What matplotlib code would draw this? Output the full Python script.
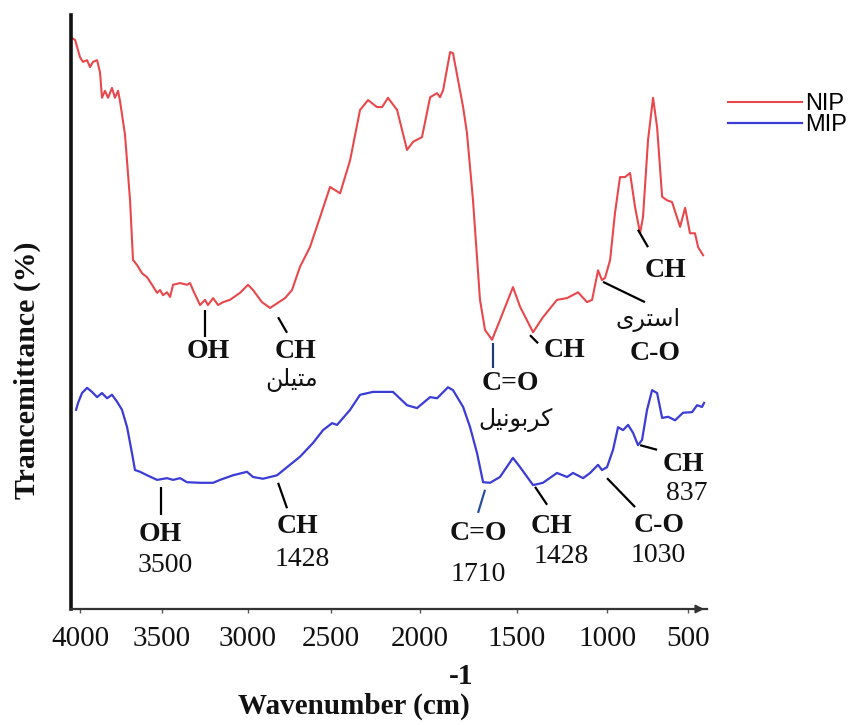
import numpy as np
import matplotlib
matplotlib.use('Agg')
import matplotlib.pyplot as plt
from matplotlib.ticker import FixedLocator, FixedFormatter, NullLocator
from matplotlib import font_manager
from matplotlib.ft2font import FT2Font

# ---------------- data ----------------
series_names = ['NIP', 'MIP']

nip_wn = [4049, 4030, 4000, 3982, 3957, 3939, 3921, 3896, 3878, 3866, 3848, 3829, 3805, 3787,
          3768, 3756, 3726, 3695, 3677, 3652, 3622, 3591, 3561, 3530, 3512, 3494, 3471, 3453,
          3436, 3395, 3355, 3337, 3320, 3279, 3250, 3233, 3203, 3174, 3145, 3105, 3047, 3000,
          2970, 2916, 2867, 2825, 2777, 2735, 2687, 2627, 2566, 2506, 2449, 2393, 2337, 2292,
          2242, 2213, 2180, 2129, 2073, 2039, 1990, 1948, 1912, 1897, 1881, 1845, 1830, 1778,
          1758, 1727, 1691, 1665, 1629, 1588, 1521, 1483, 1411, 1356, 1278, 1222, 1161, 1111,
          1083, 1050, 1028, 1011, 981, 951, 920, 889, 858, 827, 796, 778, 747, 716, 691, 660,
          630, 599, 549, 518, 488, 457, 438, 407]
nip_t = [98.6, 98.3, 95.3, 94.5, 94.8, 93.6, 94.5, 94.8, 92.7, 88.3, 89.5, 88.3, 90.0, 88.3,
         89.5, 87.7, 82.0, 70.6, 60.3, 59.4, 58.0, 57.3, 56.0, 54.6, 55.1, 54.2, 54.7, 53.9,
         56.0, 56.3, 56.0, 56.3, 55.1, 52.5, 53.4, 52.5, 53.7, 52.5, 53.0, 53.4, 54.6, 56.0,
         55.1, 53.0, 52.0, 52.8, 53.7, 55.1, 59.1, 62.5, 67.7, 72.9, 71.8, 77.5, 86.2, 87.9,
         86.7, 86.7, 88.3, 86.2, 79.3, 80.7, 81.5, 88.4, 89.1, 88.4, 89.6, 96.2, 96.0, 86.7,
         82.2, 70.6, 53.4, 48.2, 46.5, 49.9, 55.6, 52.2, 47.8, 50.4, 53.4, 53.7, 54.7, 53.0,
         53.4, 58.5, 56.8, 57.2, 60.3, 68.4, 74.6, 74.6, 75.3, 69.4, 64.9, 67.7, 81.0, 88.3,
         83.2, 71.2, 70.6, 70.3, 66.0, 69.3, 64.9, 64.9, 62.5, 61.1]

mip_wn = [4024, 4012, 3988, 3957, 3927, 3896, 3866, 3835, 3805, 3774, 3744, 3713, 3683, 3665,
          3634, 3591, 3530, 3471, 3436, 3395, 3355, 3279, 3203, 3163, 3087, 3006, 2970, 2910,
          2867, 2825, 2765, 2687, 2608, 2548, 2494, 2466, 2393, 2337, 2264, 2152, 2073, 2017,
          1948, 1912, 1856, 1830, 1778, 1742, 1706, 1675, 1639, 1588, 1521, 1483, 1411, 1356,
          1278, 1222, 1189, 1133, 1094, 1050, 1028, 1000, 963, 932, 901, 870, 839, 809, 784,
          753, 722, 691, 660, 623, 580, 531, 475, 444, 414, 401]
mip_t = [34.4, 35.6, 37.3, 38.2, 37.5, 36.6, 37.3, 36.4, 37.0, 35.8, 34.4, 31.4, 26.9, 24.0,
         23.7, 23.1, 22.3, 22.6, 22.3, 22.6, 21.9, 21.8, 21.8, 22.3, 23.1, 23.7, 22.8, 22.5,
         22.8, 23.1, 24.5, 26.3, 28.7, 30.9, 32.1, 31.8, 34.4, 37.0, 37.5, 37.5, 35.2, 34.7,
         36.6, 36.4, 38.3, 37.8, 34.9, 31.4, 26.9, 21.9, 21.8, 22.8, 26.1, 24.5, 21.4, 21.8,
         23.5, 22.8, 23.5, 22.6, 23.5, 24.9, 24.0, 24.5, 27.5, 31.4, 30.9, 31.8, 30.4, 28.3,
         29.2, 34.4, 37.8, 37.3, 33.0, 33.2, 32.6, 33.9, 34.0, 35.2, 34.9, 35.6]

tick_values = [4000, 3500, 3000, 2500, 2000, 1500, 1000, 500]
tick_labels = ['4000', '3500', '3000', '2500', '2000', '1500', '1000', '500']

x_label = 'Wavenumber (cm)'
x_label_exp = '-1'
y_label = 'Trancemittance (%)'

# ---------------- non-uniform wavenumber scale (as drawn in the figure) ----------------
# increasing function of wavenumber; axis is inverted through the limits
scale_wn = np.array([0, 500, 1000, 1500, 2000, 2500, 3000, 3500, 4000, 5000], float)
scale_pos = -np.array([769, 688, 607, 517, 420, 331, 248, 162, 80, -84], float)


def fwd(w):
    return np.interp(w, scale_wn, scale_pos)


def inv(p):
    return np.interp(p, scale_pos, scale_wn)


# ---------------- Persian text shaping ----------------
FORMS = {
    '\u0627': ('\uFE8D', '\uFE8E', None, None),
    '\u0628': ('\uFE8F', '\uFE90', '\uFE91', '\uFE92'),
    '\u062A': ('\uFE95', '\uFE96', '\uFE97', '\uFE98'),
    '\u0631': ('\uFEAD', '\uFEAE', None, None),
    '\u0633': ('\uFEB1', '\uFEB2', '\uFEB3', '\uFEB4'),
    '\u0644': ('\uFEDD', '\uFEDE', '\uFEDF', '\uFEE0'),
    '\u0645': ('\uFEE1', '\uFEE2', '\uFEE3', '\uFEE4'),
    '\u0646': ('\uFEE5', '\uFEE6', '\uFEE7', '\uFEE8'),
    '\u0648': ('\uFEED', '\uFEEE', None, None),
    '\u06CC': ('\uFBFC', '\uFBFD', '\uFBFE', '\uFBFF'),
    '\u06A9': ('\uFB8E', '\uFB8F', '\uFB90', '\uFB91'),
}
FALLBACK = {
    '\u06CC': ('\uFEEF', '\uFEF0', '\uFEF3', '\uFEF4'),
    '\u06A9': ('\uFED9', '\uFEDA', '\uFEDB', '\uFEDC'),
}
try:
    cmap = FT2Font(font_manager.findfont('DejaVu Sans')).get_charmap()
    for k, v in FALLBACK.items():
        if any(ord(g) not in cmap for g in FORMS[k]):
            FORMS[k] = v
except Exception:
    pass


def shape(s):
    out = []
    for i, c in enumerate(s):
        f = FORMS.get(c)
        if f is None:
            out.append(c)
            continue
        prev = s[i - 1] if i > 0 else None
        nxt = s[i + 1] if i < len(s) - 1 else None
        jp = prev in FORMS and FORMS[prev][2] is not None
        jn = f[2] is not None and nxt in FORMS
        if jp and jn:
            g = f[3]
        elif jp:
            g = f[1]
        elif jn:
            g = f[2]
        else:
            g = f[0]
        out.append(g)
    return ''.join(reversed(out))


# ---------------- figure ----------------
SERIF = ['Liberation Serif', 'DejaVu Serif']
fig = plt.figure(figsize=(8.67, 7.25), dpi=100)
ax = fig.add_axes([71 / 867, 1 - 609 / 725, (707 - 71) / 867, (609 - 15) / 725])
ax.set_xscale('function', functions=(fwd, inv))
ax.set_xlim(4055, 383)
ax.set_ylim(0, 102.6)

ax.plot(nip_wn, nip_t, color='#e8474c', lw=1.5, label=series_names[0])
ax.plot(mip_wn, mip_t, color='#3b3bd6', lw=1.6, label=series_names[1])

for s in ['top', 'right']:
    ax.spines[s].set_visible(False)
ax.spines['left'].set_linewidth(2.6)
ax.spines['left'].set_color('#111111')
ax.spines['bottom'].set_linewidth(1.6)
ax.spines['bottom'].set_color('#333333')
ax.annotate('', xy=(1.0, 0), xytext=(0.97, 0), xycoords='axes fraction',
            arrowprops=dict(arrowstyle='-|>', color='#333333', lw=1.4, mutation_scale=12),
            annotation_clip=False)

ax.xaxis.set_major_locator(FixedLocator(tick_values))
ax.xaxis.set_major_formatter(FixedFormatter(tick_labels))
ax.xaxis.set_minor_locator(NullLocator())
ax.yaxis.set_major_locator(NullLocator())
ax.yaxis.set_minor_locator(NullLocator())
ax.tick_params(axis='x', direction='out', length=3, width=1.0, color='#555555', pad=9)
for lab in ax.get_xticklabels():
    lab.set_fontfamily(SERIF)
    lab.set_fontsize(21)
    lab.set_color('#111111')

fig.text(354 / 867, 1 - 706 / 725, x_label, family=SERIF, fontsize=21, fontweight='bold',
         ha='center', va='center', color='#111111')
fig.text(461 / 867, 1 - 677 / 725, x_label_exp, family=SERIF, fontsize=21, fontweight='bold',
         ha='center', va='center', color='#111111')
fig.text(27 / 867, 1 - 370 / 725, y_label, family=SERIF, fontsize=21.5, fontweight='bold',
         rotation=90, ha='center', va='center', color='#111111')

# ---------------- peak annotations ----------------
# (line start wn, T), (line end wn, T), line colour, [(text, wn, T, kind)]
annotations = [
    ((3250, 51.6), (3250, 47.0), 'k', [('OH', 3233, 44.4, 'b')]),
    ((2819, 50.4), (2765, 47.7), 'k', [('CH', 2712, 44.4, 'b'), ('متیلن', 2740, 39.6, 'p')]),
    ((1624, 45.9), (1624, 41.6), '#1f3a70', [('C=O', 1536, 39.0, 'b'), ('کربونیل', 1510, 32.6, 'p')]),
    ((1428, 47.3), (1383, 45.9), 'k', [('CH', 1239, 44.7, 'b')]),
    ((1022, 56.5), (766, 53.0), 'k', [('استری', 747, 49.9, 'p'), ('C-O', 704, 44.2, 'b')]),
    ((809, 65.5), (747, 62.5), 'k', [('CH', 642, 58.5, 'b')]),
    ((3506, 21.1), (3506, 16.2), 'k', [('OH', 3512, 12.8, 'b'), ('3500', 3482, 7.6, 'n')]),
    ((2819, 21.8), (2765, 17.4), 'k', [('CH', 2699, 14.2, 'b'), ('1428', 2675, 8.5, 'n')]),
    ((1665, 20.6), (1701, 16.6), '#2c4f9a', [('C=O', 1701, 13.0, 'b'), ('1710', 1701, 6.0, 'n')]),
    ((1400, 21.1), (1333, 18.0), 'k', [('CH', 1306, 14.3, 'b'), ('1428', 1256, 9.0, 'n')]),
    ((1000, 22.6), (827, 17.6), 'k', [('C-O', 679, 14.5, 'b'), ('1030', 685, 9.2, 'n')]),
    ((796, 28.3), (691, 27.5), 'k', [('CH', 525, 25.0, 'b'), ('837', 506, 19.9, 'n')]),
]

for (p0, p1, col, texts) in annotations:
    ax.plot([p0[0], p1[0]], [p0[1], p1[1]], color=col, lw=1.6, solid_capstyle='butt',
            clip_on=False)
    for (txt, tx, ty, kind) in texts:
        if kind == 'p':
            ax.text(tx, ty, shape(txt), family='DejaVu Sans', fontsize=17, ha='center',
                    va='center', color='#111111', clip_on=False)
        else:
            ax.text(tx, ty, txt, family=SERIF, fontsize=20,
                    fontweight='bold' if kind == 'b' else 'normal',
                    ha='center', va='center', color='#111111', clip_on=False)

# ---------------- legend ----------------
fig.legend(loc='upper left', bbox_to_anchor=(719 / 867, 1 - 84 / 725), frameon=False,
           prop={'family': ['Liberation Sans', 'DejaVu Sans'], 'size': 17},
           handlelength=3.1, handletextpad=0.15, labelspacing=-0.05, borderaxespad=0)

fig.savefig('out.png', dpi=100)
